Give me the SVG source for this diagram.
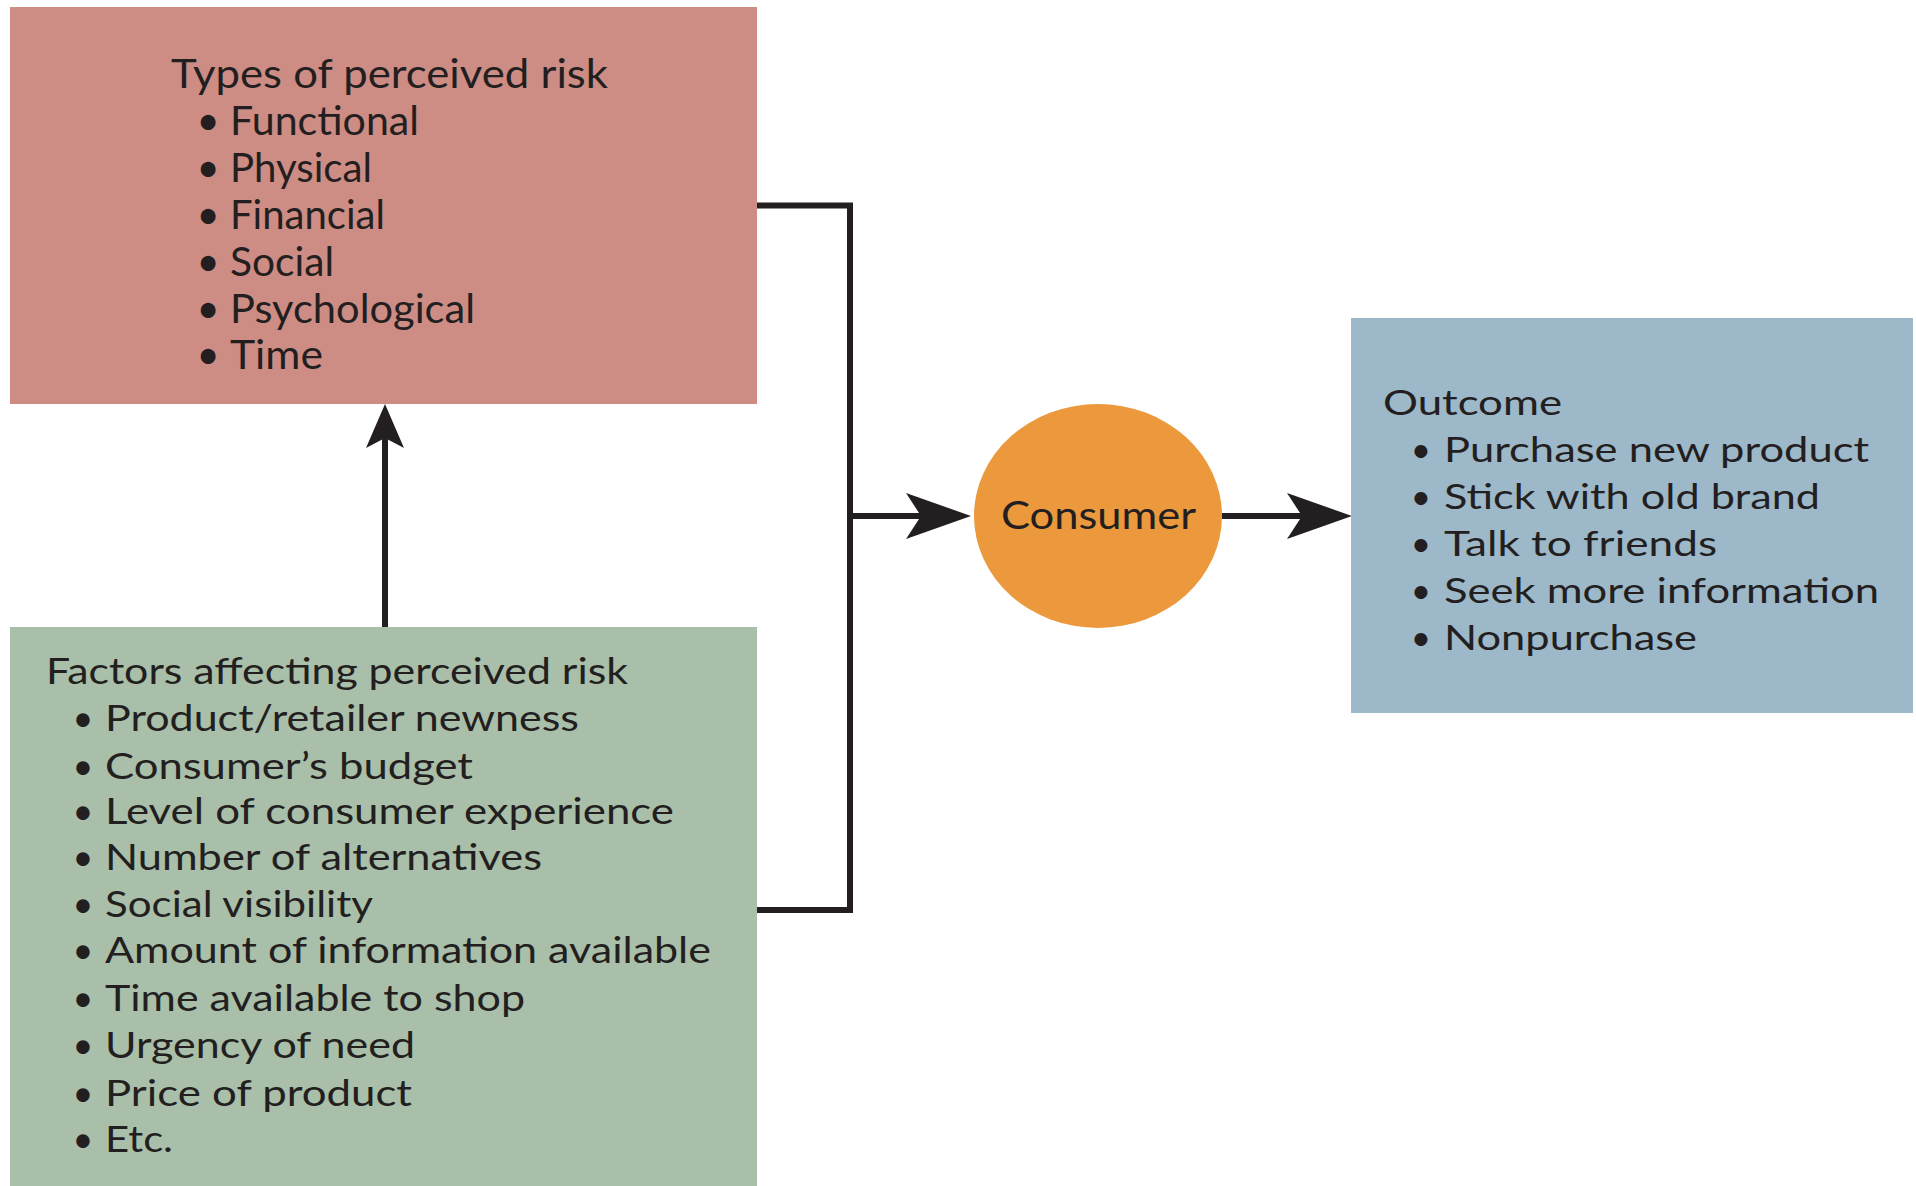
<svg xmlns="http://www.w3.org/2000/svg" width="1916" height="1186" viewBox="0 0 1916 1186">
  <style>
    .t { font-family: "Lato", "Open Sans", "Liberation Sans", sans-serif; fill: #231f20; }
    .red { font-size: 40px; }
    .green { font-size: 36px; }
    .blue { font-size: 35px; }
    .bul { text-anchor: middle; }
    .wire { fill: none; stroke: #231f20; stroke-width: 6; stroke-linejoin: miter; stroke-linecap: butt; }
  </style>
  <defs>
    <marker id="head" markerUnits="userSpaceOnUse" markerWidth="68" markerHeight="50" viewBox="-66 -25 68 50" refX="-40" refY="0" orient="auto">
      <path d="M0,0 L-65,-23 L-50,0 L-65,23 Z" fill="#231f20"/>
    </marker>
    <marker id="headSmall" markerUnits="userSpaceOnUse" markerWidth="48" markerHeight="42" viewBox="-46 -21 48 42" refX="-30" refY="0" orient="auto">
      <path d="M0,0 L-44,-19 L-34,0 L-44,19 Z" fill="#231f20"/>
    </marker>
  </defs>
  <rect width="1916" height="1186" fill="#ffffff"/>

  <!-- connectors -->
  <g id="connectors">
    <path class="wire" d="M757,205.5 H850 V910 H757"/>
    <path class="wire" d="M850,516 H931" marker-end="url(#head)"/>
    <path class="wire" d="M1222,516 H1312" marker-end="url(#head)"/>
    <path class="wire" d="M385,627 V434" marker-end="url(#headSmall)"/>
  </g>

  <!-- types of perceived risk -->
  <g id="risk-types">
    <rect x="10" y="7" width="747" height="397" fill="#cd8c84"/>
    <text class="t red" x="171" y="88" textLength="437" lengthAdjust="spacingAndGlyphs">Types of perceived risk</text>
    <g class="t red bul">
      <text x="208" y="135">•</text>
      <text x="208" y="182">•</text>
      <text x="208" y="228.5">•</text>
      <text x="208" y="275.5">•</text>
      <text x="208" y="322.5">•</text>
      <text x="208" y="369">•</text>
    </g>
    <text class="t red" x="230" y="135" textLength="189" lengthAdjust="spacingAndGlyphs">Functional</text>
    <text class="t red" x="230" y="182" textLength="142" lengthAdjust="spacingAndGlyphs">Physical</text>
    <text class="t red" x="230" y="228.5" textLength="155" lengthAdjust="spacingAndGlyphs">Financial</text>
    <text class="t red" x="230" y="275.5" textLength="104" lengthAdjust="spacingAndGlyphs">Social</text>
    <text class="t red" x="230" y="322.5" textLength="245" lengthAdjust="spacingAndGlyphs">Psychological</text>
    <text class="t red" x="230" y="369" textLength="93" lengthAdjust="spacingAndGlyphs">Time</text>
  </g>

  <!-- factors affecting perceived risk -->
  <g id="risk-factors">
    <rect x="10" y="627" width="747" height="559" fill="#a9bfa9"/>
    <text class="t green" x="46" y="684" textLength="582" lengthAdjust="spacingAndGlyphs">Factors affecting perceived risk</text>
    <g class="t green bul">
      <text x="83" y="731">•</text>
      <text x="83" y="779">•</text>
      <text x="83" y="824">•</text>
      <text x="83" y="870">•</text>
      <text x="83" y="917">•</text>
      <text x="83" y="963">•</text>
      <text x="83" y="1011">•</text>
      <text x="83" y="1058">•</text>
      <text x="83" y="1106">•</text>
      <text x="83" y="1152">•</text>
    </g>
    <text class="t green" x="105" y="731" textLength="474" lengthAdjust="spacingAndGlyphs">Product/retailer newness</text>
    <text class="t green" x="105" y="779" textLength="368" lengthAdjust="spacingAndGlyphs">Consumer’s budget</text>
    <text class="t green" x="105" y="824" textLength="569" lengthAdjust="spacingAndGlyphs">Level of consumer experience</text>
    <text class="t green" x="105" y="870" textLength="437" lengthAdjust="spacingAndGlyphs">Number of alternatives</text>
    <text class="t green" x="105" y="917" textLength="268" lengthAdjust="spacingAndGlyphs">Social visibility</text>
    <text class="t green" x="105" y="963" textLength="606" lengthAdjust="spacingAndGlyphs">Amount of information available</text>
    <text class="t green" x="105" y="1011" textLength="420" lengthAdjust="spacingAndGlyphs">Time available to shop</text>
    <text class="t green" x="105" y="1058" textLength="310" lengthAdjust="spacingAndGlyphs">Urgency of need</text>
    <text class="t green" x="105" y="1106" textLength="307" lengthAdjust="spacingAndGlyphs">Price of product</text>
    <text class="t green" x="105" y="1152" textLength="68" lengthAdjust="spacingAndGlyphs">Etc.</text>
  </g>

  <!-- consumer -->
  <g id="consumer">
    <ellipse cx="1098" cy="516" rx="124" ry="112" fill="#ec983d"/>
    <text class="t" x="1098.5" y="529" font-size="38" text-anchor="middle" textLength="195" lengthAdjust="spacingAndGlyphs">Consumer</text>
  </g>

  <!-- outcome -->
  <g id="outcome">
    <rect x="1351" y="318" width="562" height="395" fill="#9db8c8"/>
    <text class="t blue" x="1383" y="415" textLength="179" lengthAdjust="spacingAndGlyphs">Outcome</text>
    <g class="t blue bul">
      <text x="1421" y="462">•</text>
      <text x="1421" y="509">•</text>
      <text x="1421" y="556">•</text>
      <text x="1421" y="603">•</text>
      <text x="1421" y="650">•</text>
    </g>
    <text class="t blue" x="1444" y="462" textLength="425" lengthAdjust="spacingAndGlyphs">Purchase new product</text>
    <text class="t blue" x="1444" y="509" textLength="376" lengthAdjust="spacingAndGlyphs">Stick with old brand</text>
    <text class="t blue" x="1444" y="556" textLength="273" lengthAdjust="spacingAndGlyphs">Talk to friends</text>
    <text class="t blue" x="1444" y="603" textLength="435" lengthAdjust="spacingAndGlyphs">Seek more information</text>
    <text class="t blue" x="1444" y="650" textLength="253" lengthAdjust="spacingAndGlyphs">Nonpurchase</text>
  </g>
</svg>
